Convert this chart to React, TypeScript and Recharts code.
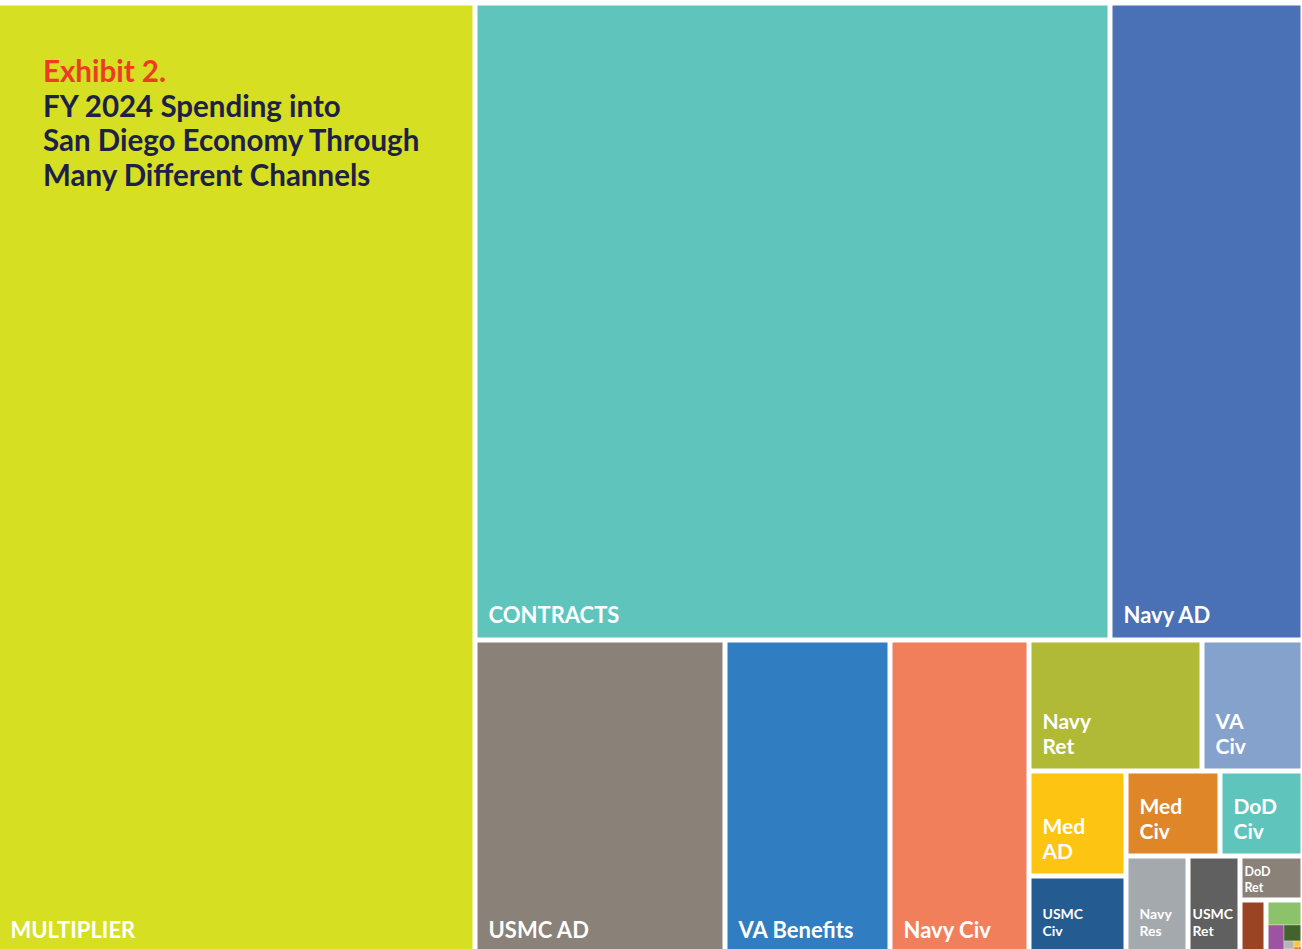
import React from 'react';
import { Treemap } from 'recharts';

// ---- Data (relative spending shares, read from tile areas) ----
const categories = [
  'MULTIPLIER', 'CONTRACTS', 'Navy AD', 'USMC AD', 'VA Benefits', 'Navy Civ',
  'Navy Ret', 'VA Civ', 'Med AD', 'USMC Civ', 'Med Civ', 'DoD Civ',
  'Navy Res', 'USMC Ret', 'DoD Ret',
  'Other 1', 'Other 2', 'Other 3', 'Other 4', 'Other 5', 'Other 6', 'Other 7', 'Other 8', 'Other 9',
];
const values = [
  4541, 4035, 1227, 788, 518, 438,
  227, 132, 102, 77, 80, 71,
  61, 51, 28,
  14, 9.4, 5.2, 3.1, 0.8, 0.5, 0.5, 0.4, 0.4,
];
const colors = [
  '#D6DF22', '#5EC4BC', '#4A70B5', '#8A8178', '#307DC2', '#F27F5C',
  '#B0BA36', '#85A2CD', '#FEC412', '#245C91', '#DE8628', '#5EC4BC',
  '#A4A9AE', '#606060', '#8A8178',
  '#9A4424', '#8CC26A', '#9C54A2', '#43632D', '#B5B5B5', '#F3E6B0', '#F8C63C', '#EF7A2E', '#D73A26',
];
// items bundled together (drawn without inner gaps)
const otherItems = [16, 17, 18, 19, 20, 21, 22, 23];

const titleLines = ['FY 2024 Spending into', 'San Diego Economy Through', 'Many Different Channels'];
const exhibitLabel = 'Exhibit 2.';

// ---- Grouping of category indices that reproduces the original tiling ----
type Spec = number | Spec[];
const tiny: Spec = [19, 20, 21, 22, 23];
const g11: Spec = [18, tiny];
const g10: Spec = [17, g11];
const g9: Spec = [16, g10];
const g8: Spec = [15, g9];
const g7: Spec = [14, g8];
const g6: Spec = [12, 13, g7];
const g4: Spec = [[10, 11], g6];
const g2: Spec = [[8, 9], g4];
const small: Spec = [[6, 7], g2];
const bottom: Spec = [3, 4, 5, small];
const rest: Spec = [[1, 2], bottom];
const rootSpec: Spec[] = [0, rest];

function leavesOf(s: Spec): number[] {
  return typeof s === 'number' ? [s] : s.flatMap(leavesOf);
}

function build(s: Spec, k: number): any {
  if (typeof s === 'number') {
    return { name: categories[s], value: values[s], color: colors[s], inOther: otherItems.includes(s) };
  }
  const lv = leavesOf(s);
  const isOtherGroup = lv.length === otherItems.length && lv.every((i) => otherItems.includes(i));
  return { name: `group-${k}-${lv[0]}`, isOtherGroup, children: s.map((c, i) => build(c, i)) };
}

const data = rootSpec.map((s, i) => build(s, i));

const GAP = 2.5;
const FONT = 'Lato, "Open Sans", sans-serif';

function renderCell(props: any) {
  const { x, y, width, height, name, color, inOther, isOtherGroup, children } = props;
  if (children && children.length) {
    if (isOtherGroup) {
      return (
        <defs>
          <clipPath id="other-clip">
            <rect x={x + GAP} y={y + GAP} width={Math.max(0, width - 2 * GAP)} height={Math.max(0, height - 2 * GAP)} />
          </clipPath>
        </defs>
      );
    }
    return null;
  }
  if (inOther) {
    return (
      <rect x={x} y={y} width={width} height={height} fill={color} stroke="#ffffff" strokeWidth={0.3} clipPath="url(#other-clip)" />
    );
  }
  const rx = x + GAP;
  const ry = y + GAP;
  const w = Math.max(0, width - 2 * GAP);
  const h = Math.max(0, height - 2 * GAP);
  const wrap = h < 200;
  let fs = 0, lh = 0, padB = 0, padX = 0;
  if (w >= 75 && h >= 78) { fs = wrap ? 21 : 22; lh = 25.3; padB = 14.5; padX = 11; }
  else if (w >= 40 && h >= 60) { fs = 14; lh = 17; padB = 16.5; padX = w < 50 ? 2 : 11; }
  else if (w >= 50 && h >= 35) { fs = 12.5; lh = 15.2; padB = 6; padX = 2; }
  const lines = wrap ? String(name).split(' ') : [String(name)];
  const firstY = ry + h - padB - (lines.length - 1) * lh;
  return (
    <g>
      <rect x={rx} y={ry} width={w} height={h} fill={color} />
      {fs > 0 && (
        <text x={rx + padX} y={firstY} fill="#ffffff" fontSize={fs} fontFamily={FONT} fontWeight={700}>
          {lines.map((ln, i) => (
            <tspan key={i} x={rx + padX} y={firstY + i * lh}>
              {ln}
            </tspan>
          ))}
        </text>
      )}
    </g>
  );
}

export default function App() {
  return (
    <div style={{ position: 'fixed', left: 0, top: 0, width: 1302, height: 949, overflow: 'hidden', background: '#ffffff' }}>
      <div style={{ position: 'absolute', left: -3, top: 3 }}>
        <Treemap
          width={1306}
          height={952}
          data={data}
          dataKey="value"
          nameKey="name"
          aspectRatio={1}
          isAnimationActive={false}
          content={renderCell as any}
        />
      </div>
      <svg style={{ position: 'absolute', left: 0, top: 0, pointerEvents: 'none' }} width={480} height={200}>
        <text x={43} y={82} fill="#EE3B24" fontSize={29.5} fontWeight={700} fontFamily={FONT}>
          {exhibitLabel}
        </text>
        {titleLines.map((t, i) => (
          <text key={i} x={43} y={117 + i * 34.3} fill="#1D2148" fontSize={29.5} fontWeight={700} fontFamily={FONT}>
            {t}
          </text>
        ))}
      </svg>
    </div>
  );
}
